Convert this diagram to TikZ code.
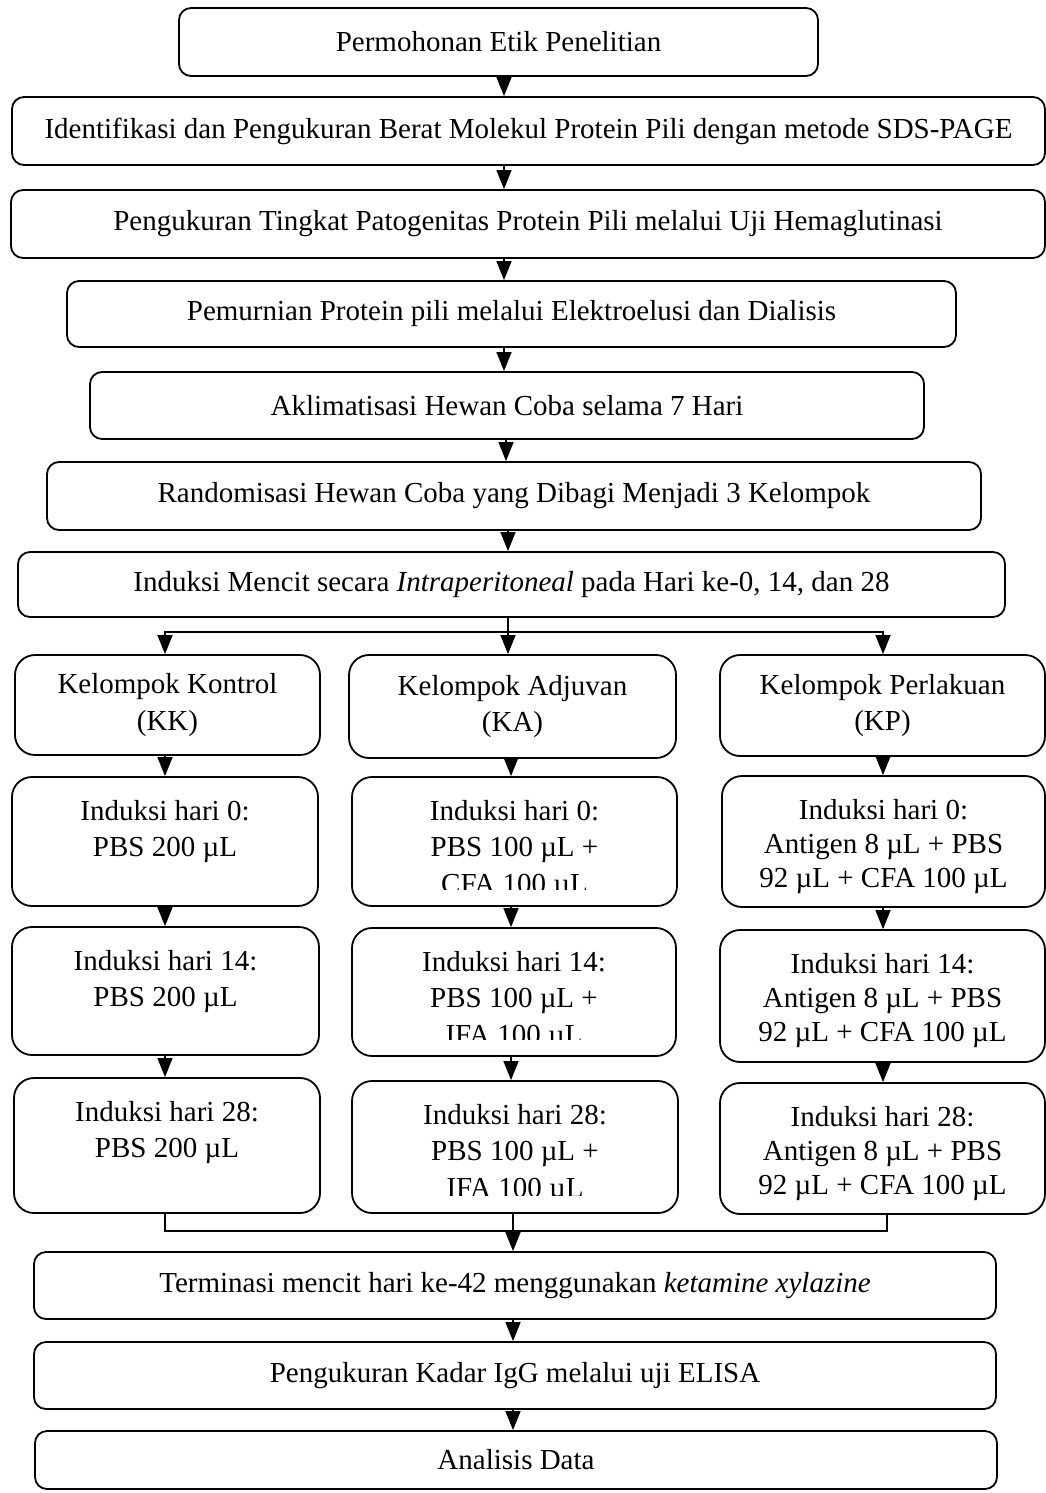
\documentclass[tikz,border=0pt]{standalone}
\usepackage{fontspec}
\setmainfont{Liberation Serif}
\usetikzlibrary{arrows.meta,positioning}

\begin{document}
\begin{tikzpicture}[
  x=1pt, y=1pt,
  every node/.style={font=\fontsize{29pt}{34pt}\selectfont, text=black},
  wide/.style={font=\fontsize{29pt}{36.5pt}\selectfont},
  stepbox/.style={draw, line width=1.8pt, rounded corners=12pt, inner sep=0pt, align=center},
  grpbox/.style={draw, line width=1.8pt, rounded corners=20pt, inner sep=0pt, align=center},
  lbl/.style={inner sep=0pt, align=center},
  ln/.style={line width=1.3pt},
  arr/.style={line width=1.3pt, -{Triangle[length=19pt,width=15pt]}}
]
\useasboundingbox (0,0) rectangle (1046,-1493);

% main sequence
\node[stepbox, minimum width=639, minimum height=68] (b1) at (498.5,-42) {Permohonan Etik Penelitian};
\node[stepbox, minimum width=1033, minimum height=68] (b2) at (528.5,-131) {Identifikasi dan Pengukuran Berat Molekul Protein Pili dengan metode SDS-PAGE};
\node[stepbox, minimum width=1034, minimum height=68] (b3) at (528,-224) {Pengukuran Tingkat Patogenitas Protein Pili melalui Uji Hemaglutinasi};
\node[stepbox, minimum width=889, minimum height=66] (b4) at (511.5,-314) {Pemurnian Protein pili melalui Elektroelusi dan Dialisis};
\node[stepbox, minimum width=834, minimum height=67] (b5) at (507,-405.5) {Aklimatisasi Hewan Coba selama 7 Hari};
\node[stepbox, minimum width=934, minimum height=68] (b6) at (514,-496) {Randomisasi Hewan Coba yang Dibagi Menjadi 3 Kelompok};
\node[stepbox, minimum width=987, minimum height=65] (b7) at (511.5,-584.5) {Induksi Mencit secara \textit{Intraperitoneal} pada Hari ke-0, 14, dan 28};

% group headers
\node[grpbox, wide, minimum width=305, minimum height=100] (kk) at (167.5,-705) {Kelompok Kontrol\\(KK)};
\node[grpbox, wide, minimum width=327, minimum height=103] (ka) at (512.5,-706.5) {Kelompok Adjuvan\\(KA)};
\node[grpbox, wide, minimum width=325, minimum height=101] (kp) at (882.5,-705.5) {Kelompok Perlakuan\\(KP)};

% induction boxes
\node[grpbox, minimum width=306, minimum height=129] (kk0) at (165,-841.5) {};
\node[grpbox, minimum width=325, minimum height=129] (ka0) at (514.5,-841.5) {};
\node[grpbox, minimum width=323, minimum height=131] (kp0) at (883.5,-841.5) {};
\node[grpbox, minimum width=307, minimum height=128] (kk1) at (165.5,-991) {};
\node[grpbox, minimum width=324, minimum height=128] (ka1) at (514,-992) {};
\node[grpbox, minimum width=325, minimum height=132] (kp1) at (882.5,-996) {};
\node[grpbox, minimum width=306, minimum height=135] (kk2) at (167,-1145.5) {};
\node[grpbox, minimum width=326, minimum height=132] (ka2) at (515,-1147) {};
\node[grpbox, minimum width=325, minimum height=131] (kp2) at (882.5,-1148.5) {};

\node[lbl, wide, anchor=north, below=24 of kk0.north] (kk0t) {Induksi hari 0:\\PBS 200 µL};
\node[lbl, wide, anchor=north, below=24 of kk1.north] (kk1t) {Induksi hari 14:\\PBS 200 µL};
\node[lbl, wide, anchor=north, below=24 of kk2.north] (kk2t) {Induksi hari 28:\\PBS 200 µL};
\node[lbl, anchor=north, below=24 of kp0.north] (kp0t) {Induksi hari 0:\\Antigen 8 µL + PBS\\92 µL + CFA 100 µL};
\node[lbl, anchor=north, below=24 of kp1.north] (kp1t) {Induksi hari 14:\\Antigen 8 µL + PBS\\92 µL + CFA 100 µL};
\node[lbl, anchor=north, below=24 of kp2.north] (kp2t) {Induksi hari 28:\\Antigen 8 µL + PBS\\92 µL + CFA 100 µL};

% adjuvant texts are cut off above the box's lower edge
\begin{scope}
  \clip (ka0.north west) rectangle ([yshift=17]ka0.south east);
  \node[lbl, wide, anchor=north, below=24 of ka0.north] (ka0t) {Induksi hari 0:\\PBS 100 µL +\\CFA 100 µL};
\end{scope}
\begin{scope}
  \clip (ka1.north west) rectangle ([yshift=17]ka1.south east);
  \node[lbl, wide, anchor=north, below=24 of ka1.north] (ka1t) {Induksi hari 14:\\PBS 100 µL +\\IFA 100 µL};
\end{scope}
\begin{scope}
  \clip (ka2.north west) rectangle ([yshift=18]ka2.south east);
  \node[lbl, wide, anchor=north, below=24 of ka2.north] (ka2t) {Induksi hari 28:\\PBS 100 µL +\\IFA 100 µL};
\end{scope}

% final steps
\node[stepbox, minimum width=962, minimum height=67] (t) at (515,-1285.5) {Terminasi mencit hari ke-42 menggunakan \textit{ketamine xylazine}};
\node[stepbox, minimum width=962, minimum height=67] (g) at (515,-1375.5) {Pengukuran Kadar IgG melalui uji ELISA};
\node[stepbox, minimum width=962, minimum height=58] (d) at (516,-1460) {Analisis Data};

% connectors
\coordinate (ax) at (504,0);
\draw[arr] (b1.south -| ax) -- (b2.north -| ax);
\draw[arr] (b2.south -| ax) -- (b3.north -| ax);
\draw[arr] (b3.south -| ax) -- (b4.north -| ax);
\draw[arr] (b4.south -| ax) -- (b5.north -| ax);
\coordinate (ay) at (506,0);
\draw[arr] (b5.south -| ay) -- (b6.north -| ay);
\coordinate (sp) at (508,-632);
\draw[arr] (b6.south -| sp) -- (b7.north -| sp);

\coordinate (cK) at (165,0);
\coordinate (cA) at (511,0);
\coordinate (cP) at (883,0);
\draw[ln] (b7.south -| sp) -- (sp);
\draw[arr] (sp) -| (kk.north -| cK);
\draw[arr] (sp) -| (kp.north -| cP);
\draw[arr] (sp) -- (ka.north -| sp);

\draw[arr] (kk.south -| cK) -- (kk0.north -| cK);
\draw[arr] (kk0.south -| cK) -- (kk1.north -| cK);
\draw[arr] (kk1.south -| cK) -- (kk2.north -| cK);
\draw[arr] (ka.south -| cA) -- (ka0.north -| cA);
\draw[arr] (ka0.south -| cA) -- (ka1.north -| cA);
\draw[arr] (ka1.south -| cA) -- (ka2.north -| cA);
\draw[arr] (kp.south -| cP) -- (kp0.north -| cP);
\draw[arr] (kp0.south -| cP) -- (kp1.north -| cP);
\draw[arr] (kp1.south -| cP) -- (kp2.north -| cP);

\coordinate (mg) at (513,-1231);
\coordinate (cP2) at (887,0);
\draw[ln] (kk2.south -| cK) |- (mg);
\draw[ln] (kp2.south -| cP2) |- (mg);
\draw[arr] (ka2.south -| mg) -- (t.north -| mg);
\draw[arr] (t.south -| mg) -- (g.north -| mg);
\draw[arr] (g.south -| mg) -- (d.north -| mg);
\end{tikzpicture}
\end{document}
